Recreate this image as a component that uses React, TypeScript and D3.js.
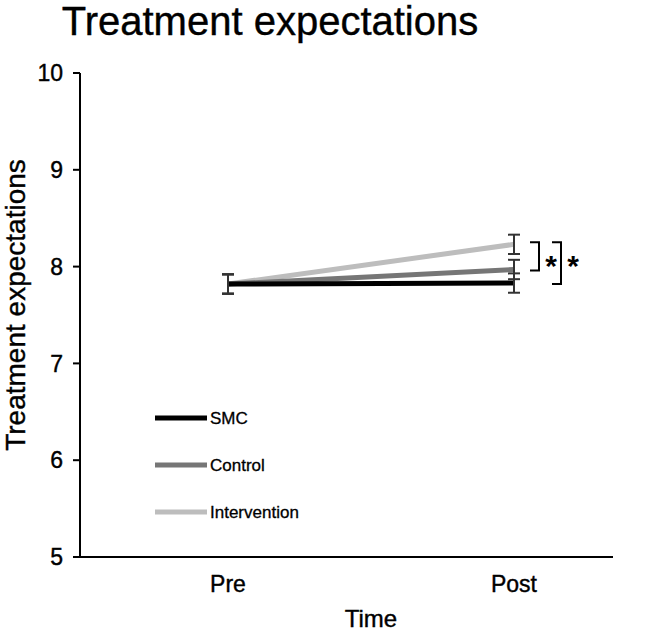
import React from 'react';
import * as d3 from 'd3';

// Pre/post treatment expectations per group, with standard-error bars
// and significance brackets on the Post time point.

const TIMES = ['Pre', 'Post'];
const GROUPS = ['SMC', 'Control', 'Intervention'];
const GROUP_COLORS = ['#000000', '#767676', '#bdbdbd'];
const MEANS = [
  [7.82, 7.83],
  [7.82, 7.97],
  [7.82, 8.23],
];
const ERRORS = [
  [0.1, 0.1],
  [0.1, 0.1],
  [0.1, 0.1],
];
const Y_TICKS = [5, 6, 7, 8, 9, 10];
// pairs of group indices compared at Post
const SIG_PAIRS = [
  [2, 1],
  [2, 0],
];

const W = 661;
const H = 635;
const FONT = '"Liberation Sans", Arial, Helvetica, sans-serif';
// slight outline makes the labels a touch heavier than the regular face
const TXT = { fill: '#000', stroke: '#000', strokeWidth: 0.4 };

export default function App() {
  const y = d3.scaleLinear().domain([5, 10]).range([557, 73]);
  const x = d3.scalePoint<string>().domain(TIMES).range([228, 514]);
  const axisLeft = 80;
  const axisRight = 613;

  const line = d3
    .line<number>()
    .x((_, i) => x(TIMES[i]) as number)
    .y(d => y(d));

  const capW = 6;
  const postX = x('Post') as number;

  return (
    <svg
      width={W}
      height={H}
      style={{ position: 'absolute', left: 0, top: 0, background: '#fff' }}
      fontFamily={FONT}
    >
      <text x={270} y={35} textAnchor="middle" fontSize={40} {...TXT}>
        Treatment expectations
      </text>

      {/* y axis */}
      <line x1={axisLeft} x2={axisLeft} y1={y(10)} y2={y(5)} stroke="#000" strokeWidth={2} />
      {Y_TICKS.map(t => (
        <g key={t}>
          <line x1={axisLeft - 7} x2={axisLeft} y1={y(t)} y2={y(t)} stroke="#000" strokeWidth={2} />
          <text x={axisLeft - 17} y={y(t)} dy="0.36em" textAnchor="end" fontSize={23} {...TXT}>
            {t}
          </text>
        </g>
      ))}
      <text
        transform={`translate(25,305) rotate(-90)`}
        textAnchor="middle"
        fontSize={28}
        {...TXT}
      >
        Treatment expectations
      </text>

      {/* x axis */}
      <line x1={axisLeft} x2={axisRight} y1={y(5)} y2={y(5)} stroke="#000" strokeWidth={2} />
      {TIMES.map(t => (
        <text key={t} x={x(t)} y={592} textAnchor="middle" fontSize={23} {...TXT}>
          {t}
        </text>
      ))}
      <text x={(x('Pre')! + x('Post')!) / 2} y={627} textAnchor="middle" fontSize={24} {...TXT}>
        Time
      </text>

      {/* group lines, drawn light to dark so SMC sits on top */}
      {GROUPS.map((g, gi) => gi)
        .reverse()
        .map(gi => (
          <path
            key={GROUPS[gi]}
            d={line(MEANS[gi]) || ''}
            fill="none"
            stroke={GROUP_COLORS[gi]}
            strokeWidth={5}
          />
        ))}

      {/* error bars */}
      {GROUPS.map((g, gi) =>
        TIMES.map((t, ti) => {
          const cx = x(t) as number;
          const m = MEANS[gi][ti];
          const e = ERRORS[gi][ti];
          return (
            <g key={g + t} stroke="#333" strokeWidth={2}>
              <line x1={cx} x2={cx} y1={y(m + e)} y2={y(m - e)} />
              <line x1={cx - capW} x2={cx + capW} y1={y(m + e)} y2={y(m + e)} />
              <line x1={cx - capW} x2={cx + capW} y1={y(m - e)} y2={y(m - e)} />
            </g>
          );
        })
      )}

      {/* significance brackets */}
      {SIG_PAIRS.map(([a, b], i) => {
        const x0 = postX + 16 + i * 22;
        const x1 = x0 + 9;
        const yTop = y(MEANS[a][1]) - 2;
        const yBot = y(MEANS[b][1]) + 1;
        return (
          <g key={i}>
            <path
              d={`M${x0},${yTop}H${x1}V${yBot}H${x0}`}
              fill="none"
              stroke="#000"
              strokeWidth={2}
            />
            <text x={x1 + 12} y={yTop + 34} textAnchor="middle" fontSize={30} fontWeight="bold">
              *
            </text>
          </g>
        );
      })}

      {/* legend */}
      {GROUPS.map((g, gi) => {
        const ly = 418 + gi * 47;
        return (
          <g key={g}>
            <line x1={155} x2={207} y1={ly} y2={ly} stroke={GROUP_COLORS[gi]} strokeWidth={5} />
            <text x={210} y={ly} dy="0.36em" fontSize={17} {...TXT} strokeWidth={0.3}>
              {g}
            </text>
          </g>
        );
      })}
    </svg>
  );
}
